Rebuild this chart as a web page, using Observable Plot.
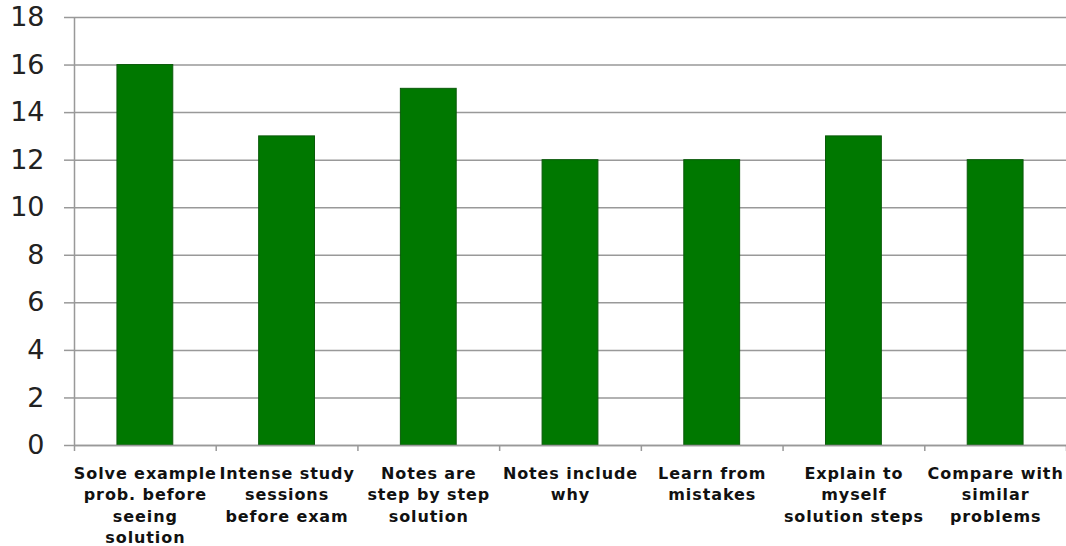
<!DOCTYPE html>
<html>
<head>
<meta charset="utf-8">
<script src="https://cdn.jsdelivr.net/npm/d3@7"></script>
<script src="https://cdn.jsdelivr.net/npm/@observablehq/plot@0.6"></script>
<style>
  html, body { margin: 0; padding: 0; background: #fff; }
  #chart svg { display: block; }
  #chart g[aria-label="x-axis tick label"] text { letter-spacing: 0.9px; }
</style>
</head>
<body>
<div id="chart"></div>
<script>
// Study strategies and how many respondents reported each
const categories = [
  "Solve example\nprob. before\nseeing\nsolution",
  "Intense study\nsessions\nbefore exam",
  "Notes are\nstep by step\nsolution",
  "Notes include\nwhy",
  "Learn from\nmistakes",
  "Explain to\nmyself\nsolution steps",
  "Compare with\nsimilar\nproblems"
];
const counts = [16, 13, 15, 12, 12, 13, 12];
const yTicks = [0, 2, 4, 6, 8, 10, 12, 14, 16, 18];

const rows = categories.map((name, i) => ({name, i, count: counts[i]}));
const boundaries = d3.range(categories.length + 1);
const centers = categories.map((_, i) => i + 0.5);
const barHalf = 0.197;

const chart = Plot.plot({
  width: 1066,
  height: 546,
  marginLeft: 74,
  marginRight: 0,
  marginTop: 17,
  marginBottom: 101,
  style: {fontFamily: "DejaVu Sans", background: "#fff", overflow: "visible"},
  x: {domain: [0, categories.length], axis: null},
  y: {domain: [0, 18], axis: null},
  marks: [
    Plot.gridY(yTicks, {stroke: "#999", strokeOpacity: 1, strokeWidth: 1.5, x1: null, x2: null}),
    Plot.axisY({
      ticks: yTicks, tickSize: 10, tickPadding: 20, stroke: "#999", strokeWidth: 1.5,
      fontSize: 27, fill: "#222", label: null
    }),
    Plot.ruleX([0], {stroke: "#999", strokeWidth: 1.5}),
    Plot.rect(rows, {
      x1: d => d.i + 0.5 - barHalf,
      x2: d => d.i + 0.5 + barHalf,
      y1: 0, y2: "count",
      fill: "#007800", stroke: "#0a5a0a", strokeWidth: 1
    }),
    Plot.ruleY([0], {stroke: "#999", strokeWidth: 1.5}),
    Plot.axisX({ticks: boundaries, tickSize: 6, tickFormat: () => "", stroke: "#999", strokeWidth: 1.5, label: null}),
    Plot.axisX({
      ticks: centers, tickSize: 0, tickPadding: 18,
      tickFormat: (d) => categories[Math.round(d - 0.5)],
      fontSize: 16, fontWeight: "bold", fill: "#111", lineHeight: 1.34,
      label: null
    })
  ]
});
document.getElementById("chart").appendChild(chart);
</script>
</body>
</html>
